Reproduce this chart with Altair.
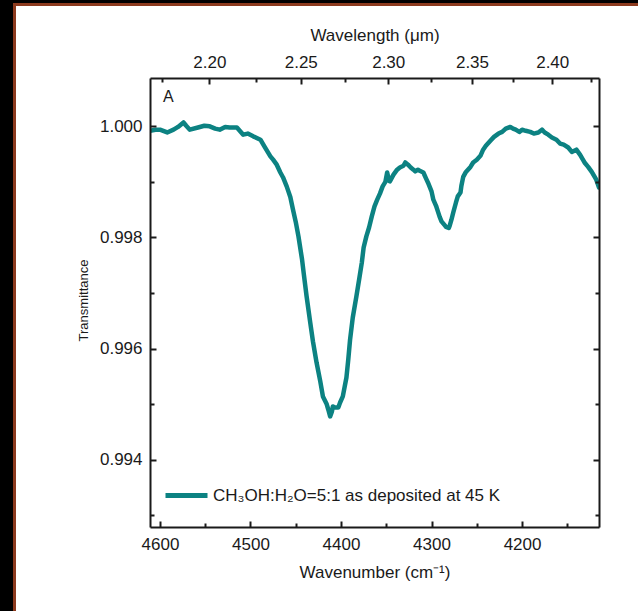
import altair as alt
import pandas as pd

# ---------------- data ----------------
wavenumber = [4611, 4605, 4600, 4592, 4585, 4580, 4574, 4571, 4567, 4558, 4551, 4545, 4539, 4534,
              4528, 4523, 4515, 4508, 4503, 4497, 4489, 4484, 4478, 4475, 4471, 4467, 4464, 4460,
              4456, 4453, 4450, 4447, 4443, 4441, 4438, 4434, 4431, 4427, 4423, 4420, 4416, 4414,
              4412, 4410, 4409, 4407, 4403, 4401, 4398, 4394, 4392, 4390, 4387, 4383, 4380, 4377,
              4375, 4372, 4369, 4366, 4363, 4360, 4357, 4354, 4351, 4349, 4347, 4346, 4342, 4338,
              4335, 4331, 4329, 4326, 4323, 4320, 4318, 4315, 4313, 4309, 4306, 4304, 4300, 4298,
              4295, 4293, 4291, 4289, 4286, 4284, 4281, 4280, 4278, 4276, 4273, 4271, 4268, 4267,
              4265, 4262, 4257, 4254, 4250, 4246, 4243, 4240, 4235, 4231, 4226, 4222, 4218, 4213,
              4210, 4207, 4203, 4200, 4196, 4191, 4187, 4182, 4178, 4175, 4171, 4167, 4162, 4158,
              4154, 4149, 4145, 4140, 4136, 4131, 4127, 4123, 4118, 4115]
transmittance = [0.99992, 0.99994, 0.99994, 0.99989, 0.99994, 0.99999, 1.00007, 1.00001, 0.99994,
                 0.99998, 1.00001, 1.00000, 0.99996, 0.99994, 0.99999, 0.99998, 0.99998, 0.99985,
                 0.99987, 0.99982, 0.99976, 0.99962, 0.99946, 0.99940, 0.99931, 0.99917, 0.99908,
                 0.99892, 0.99873, 0.99850, 0.99828, 0.99802, 0.99760, 0.99733, 0.99694, 0.99647,
                 0.99613, 0.99575, 0.99542, 0.99514, 0.99501, 0.99490, 0.99478, 0.99487, 0.99496,
                 0.99494, 0.99494, 0.99503, 0.99514, 0.99548, 0.99580, 0.99616, 0.99656, 0.99694,
                 0.99724, 0.99755, 0.99782, 0.99802, 0.99818, 0.99838, 0.99856, 0.99868, 0.99879,
                 0.99892, 0.99900, 0.99917, 0.99902, 0.99901, 0.99913, 0.99922, 0.99926, 0.99929,
                 0.99935, 0.99931, 0.99926, 0.99922, 0.99919, 0.99922, 0.99920, 0.99917, 0.99906,
                 0.99899, 0.99883, 0.99868, 0.99857, 0.99847, 0.99837, 0.99829, 0.99823, 0.99819,
                 0.99817, 0.99821, 0.99832, 0.99845, 0.99863, 0.99874, 0.99881, 0.99893, 0.99909,
                 0.99918, 0.99927, 0.99935, 0.99940, 0.99947, 0.99958, 0.99965, 0.99974, 0.99981,
                 0.99987, 0.99990, 0.99996, 0.99999, 0.99996, 0.99994, 0.99990, 0.99994, 0.99992,
                 0.99990, 0.99987, 0.99989, 0.99994, 0.99989, 0.99985, 0.99980, 0.99976, 0.99969,
                 0.99967, 0.99962, 0.99954, 0.99958, 0.99949, 0.99935, 0.99927, 0.99918, 0.99904,
                 0.99890]
series_name = "CH₃OH:H₂O=5:1 as deposited at 45 K"
panel_label = "A"

wn_major = [4600, 4500, 4400, 4300, 4200]
wn_minor = [4550, 4450, 4350, 4250, 4150]
wl_major = [2.20, 2.25, 2.30, 2.35, 2.40]
wl_minor = [2.175, 2.225, 2.275, 2.325, 2.375, 2.425]
t_major = [0.994, 0.996, 0.998, 1.000]
t_minor = [0.993, 0.995, 0.997, 0.999]

x_domain = [4115, 4611]
y_domain = [0.99279, 1.00087]

# ---------------- styling ----------------
W, H = 449, 449
TEAL = "#0c8282"
INK = "#1a1a1a"
BROWN = "#8c3a1e"
FONT = "Liberation Sans"

df = pd.DataFrame({"wavenumber": wavenumber, "transmittance": transmittance, "series": series_name})


def xs():
    return alt.Scale(domain=x_domain, reverse=True, nice=False, zero=False)


def ys():
    return alt.Scale(domain=y_domain, nice=False, zero=False)


COMMON = dict(zindex=1, grid=False, domainColor=INK, domainWidth=2, tickColor=INK, tickWidth=2,
              labelColor=INK, titleColor=INK, labelFont=FONT, titleFont=FONT,
              titleFontWeight="normal")


def tick_axis(orient, offset, values, size):
    return alt.Axis(orient=orient, offset=offset, values=values, tickSize=size, ticks=True,
                    labels=False, domain=False, title=None, **COMMON)


def blank_axis(orient):
    return alt.Axis(orient=orient, values=[], ticks=False, tickSize=0, labels=False,
                    domain=True, title=None, **COMMON)


base = alt.Chart(df)

frame = alt.Chart(alt.Data(values=[{}])).mark_rect(
    fill="white", stroke=BROWN, strokeWidth=3
).encode(x=alt.value(-135.5), x2=alt.value(520), y=alt.value(-73.5), y2=alt.value(560))

line = base.mark_line(color=TEAL, strokeWidth=4.5, clip=True, strokeJoin="round",
                      strokeCap="round").encode(
    x=alt.X("wavenumber:Q", scale=xs(),
            axis=alt.Axis(orient="bottom", values=wn_major, format="d", ticks=False, tickSize=0,
                          labelPadding=9, labelFontSize=17, title="Wavenumber (cm⁻¹)",
                          titleFontSize=17, titleY=50, titleBaseline="alphabetic", **COMMON)),
    y=alt.Y("transmittance:Q", scale=ys(),
            axis=alt.Axis(orient="left", values=t_major, format=".3f", ticks=False, tickSize=0,
                          labelPadding=8, labelFontSize=17, title="Transmittance",
                          titleFontSize=13, titleX=-63, titleY=222, titleAlign="center",
                          titleBaseline="alphabetic", titleAngle=-90, **COMMON)),
    color=alt.Color("series:N", scale=alt.Scale(range=[TEAL]),
                    legend=alt.Legend(orient="none", legendX=13, legendY=394, title=None,
                                      symbolType="stroke", symbolSize=1764,
                                      symbolStrokeWidth=5, labelFontSize=17, labelFont=FONT,
                                      labelColor=INK, labelOffset=3, padding=0,
                                      labelLimit=400)),
)


def ghost(x_axis, y_axis):
    return base.mark_line(opacity=0).encode(
        x=alt.X("wavenumber:Q", scale=xs(), axis=x_axis),
        y=alt.Y("transmittance:Q", scale=ys(), axis=y_axis),
    )


# inward ticks on bottom and left edges
in_major_bl = ghost(tick_axis("top", -H, wn_major, 6), tick_axis("right", -W, t_major, 6))
in_minor_bl = ghost(tick_axis("top", -H, wn_minor, 4), tick_axis("right", -W, t_minor, 4))

# top wavelength labels and right spine
wl_major_pos = [10000.0 / v for v in wl_major]
wl_minor_pos = [10000.0 / v for v in wl_minor]
top_labels = ghost(
    alt.Axis(orient="top", values=wl_major_pos, labelExpr="format(10000/datum.value, '.2f')",
             ticks=False, tickSize=0, labelPadding=7, labelFontSize=17,
             title="Wavelength (μm)", titleFontSize=17, titleY=-38,
             titleBaseline="alphabetic", **COMMON),
    blank_axis("right"),
)
# inward ticks on top and right edges
in_major_tr = ghost(tick_axis("bottom", -H, wl_major_pos, 6), tick_axis("left", -W, t_major, 6))
in_minor_tr = ghost(tick_axis("bottom", -H, wl_minor_pos, 4), tick_axis("left", -W, t_minor, 4))

label_a = alt.Chart(alt.Data(values=[{"label": panel_label}])).mark_text(
    font=FONT, fontSize=16, color=INK, align="left", baseline="middle"
).encode(x=alt.value(13), y=alt.value(19), text="label:N")

chart = alt.layer(
    frame, line, in_major_bl, in_minor_bl, top_labels, in_major_tr, in_minor_tr, label_a
).resolve_scale(
    x="independent", y="independent"
).properties(
    width=W, height=H,
    padding={"left": 150, "top": 78, "right": 39, "bottom": 84},
    autosize=alt.AutoSizeParams(type="none"),
    background="black",
).configure_view(stroke=None)

chart.save("out.html", embed_options={"renderer": "svg", "actions": False})
